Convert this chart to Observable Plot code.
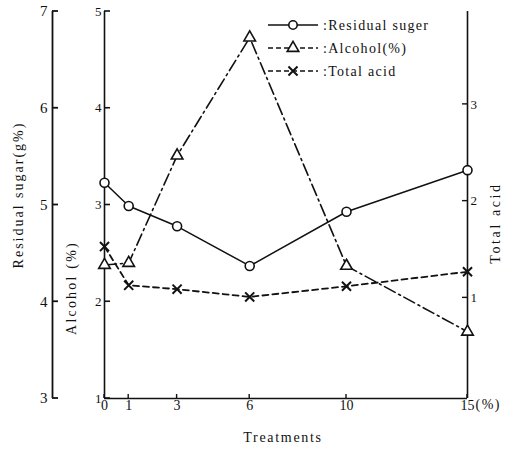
<!DOCTYPE html>
<html><head><meta charset="utf-8">
<script src="https://cdn.jsdelivr.net/npm/d3@7"></script>
<script src="https://cdn.jsdelivr.net/npm/@observablehq/plot@0.6"></script>
<style>
body{margin:0;background:#fff;}
#chart svg{display:block;}
</style>
</head><body><div id="chart"></div>
<script>
// ---- data ----
const treatments = [0, 1, 3, 6, 10, 15];
const residualSugar = [5.23, 4.99, 4.78, 4.37, 4.93, 5.36];
const alcohol = [2.38, 2.40, 3.51, 4.73, 2.37, 1.69];
const totalAcid = [1.53, 1.13, 1.09, 1.01, 1.12, 1.27];

const sugarTicks = [3, 4, 5, 6, 7];
const alcoholTicks = [1, 2, 3, 4, 5];
const acidTicks = [1, 2, 3];
const xTicks = [0, 1, 3, 6, 10, 15];

const seriesNames = [":Residual suger", ":Alcohol(%)", ":Total acid"];
const seriesSymbols = ["circle", "triangle", "times"];
const seriesDash = [null, "12,4,2,4", "6,4"];

// the three y axes share one pixel scale, offset from the alcohol axis
const SUGAR_SHIFT = 2;
const ACID_SHIFT = 1.04;

const ink = "#111";
const W = 512, H = 451, ML = 104, MR = 45, MT = 11, MB = 53;
const serif = "'Liberation Serif', serif";

const rows = treatments.map((t, i) => ({
  t,
  sugar: residualSugar[i] - SUGAR_SHIFT,
  alcohol: alcohol[i],
  acid: totalAcid[i] + ACID_SHIFT
}));

const chart = Plot.plot({
  width: W,
  height: H,
  marginLeft: ML,
  marginRight: MR,
  marginTop: MT,
  marginBottom: MB,
  style: {fontFamily: serif, fontSize: "14px", color: ink, background: "#fff"},
  x: {domain: [0, 15], axis: null},
  y: {domain: [1, 5], axis: null},
  marks: [
    // axis lines
    Plot.ruleX([0, 15], {stroke: ink, strokeWidth: 1.6}),
    Plot.ruleX([0], {dx: -52, stroke: ink, strokeWidth: 1.8}),
    Plot.ruleY([1], {stroke: ink, strokeWidth: 1.6}),
    // tick labels
    Plot.axisY(alcoholTicks, {anchor: "left", tickSize: 0, tickPadding: 3, tickFormat: d => String(d), fill: ink, label: null, fontSize: 13}),
    Plot.axisY(sugarTicks.map(v => v - SUGAR_SHIFT), {anchor: "left", dx: -52, tickSize: 0, tickPadding: 5, tickFormat: d => String(d + SUGAR_SHIFT), fill: ink, label: null, fontSize: 15}),
    Plot.axisY(acidTicks.map(v => v + ACID_SHIFT), {anchor: "right", tickSize: 0, tickPadding: 3, tickFormat: d => String(Math.round(d - ACID_SHIFT)), fill: ink, label: null, fontSize: 13}),
    Plot.axisX(xTicks, {anchor: "bottom", tickSize: 0, tickPadding: 2, tickFormat: d => String(d), fill: ink, label: null, fontSize: 14}),
    Plot.text(["(%)"], {x: [15], frameAnchor: "bottom", dx: 8, dy: 10, textAnchor: "start", text: d => d, fill: ink, fontSize: 14}),

    // series
    Plot.line(rows, {x: "t", y: "sugar", stroke: ink, strokeWidth: 1.5}),
    Plot.line(rows, {x: "t", y: "alcohol", stroke: ink, strokeWidth: 1.6, strokeDasharray: seriesDash[1]}),
    Plot.line(rows, {x: "t", y: "acid", stroke: ink, strokeWidth: 1.8, strokeDasharray: seriesDash[2]}),
    Plot.dot(rows, {x: "t", y: "sugar", symbol: "circle", r: 4.5, fill: "white", stroke: ink, strokeWidth: 1.6}),
    Plot.dot(rows, {x: "t", y: "alcohol", symbol: "triangle", r: 4.3, fill: "white", stroke: ink, strokeWidth: 1.6}),
    Plot.dot(rows, {x: "t", y: "acid", symbol: "times", r: 4.2, stroke: ink, strokeWidth: 2}),

    // axis titles
    Plot.text(["Residual sugar(g%)"], {frameAnchor: "left", dx: -86, dy: -10, rotate: -90, textAnchor: "middle", text: d => d, fill: ink, fontSize: 14}),
    Plot.text(["Alcohol (%)"], {frameAnchor: "left", dx: -33, dy: 83, rotate: -90, textAnchor: "middle", text: d => d, fill: ink, fontSize: 14}),
    Plot.text(["Total acid"], {frameAnchor: "right", dx: 28, dy: 18, rotate: -90, textAnchor: "middle", text: d => d, fill: ink, fontSize: 14}),
    Plot.text(["Treatments"], {frameAnchor: "bottom", dx: -3, dy: 43, textAnchor: "middle", text: d => d, fill: ink, fontSize: 14})
  ]
});

document.getElementById("chart").appendChild(chart);
const svg = d3.select(chart);

// inward tick marks, positioned with the plot's own scales
const xs = chart.scale("x"), ys = chart.scale("y");
const X0 = xs.apply(0), X15 = xs.apply(15), Y1 = ys.apply(1);
const tk = svg.append("g").attr("stroke", ink).attr("fill", "none");
alcoholTicks.forEach(v => tk.append("line").attr("x1", X0).attr("x2", X0 + 6).attr("y1", ys.apply(v)).attr("y2", ys.apply(v)).attr("stroke-width", 1.6));
sugarTicks.forEach(v => { const y = ys.apply(v - SUGAR_SHIFT); tk.append("line").attr("x1", X0 - 52).attr("x2", X0 - 46).attr("y1", y).attr("y2", y).attr("stroke-width", 1.8); });
acidTicks.forEach(v => { const y = ys.apply(v + ACID_SHIFT); tk.append("line").attr("x1", X15).attr("x2", X15 - 5).attr("y1", y).attr("y2", y).attr("stroke-width", 1.4); });
xTicks.forEach(v => { const x = xs.apply(v); tk.append("line").attr("x1", x).attr("x2", x).attr("y1", Y1).attr("y2", Y1 - 4).attr("stroke-width", 1.4); });

// letter spacing of the scanned typesetting
const spacing = {"Residual sugar(g%)": "2px", "Alcohol (%)": "2.2px", "Total acid": "2.6px", "Treatments": "1.7px", "(%)": "1.5px"};
svg.selectAll("text").each(function () {
  const s = spacing[this.textContent];
  if (s) d3.select(this).style("letter-spacing", s);
});

// legend inside the plot area (top right)
const symMap = {circle: d3.symbolCircle, triangle: d3.symbolTriangle, times: d3.symbolTimes};
const symR = [4.2, 4.3, 4.2];
const lg = svg.append("g").attr("font-family", serif).attr("font-size", 14).attr("text-anchor", "start");
seriesNames.forEach((name, i) => {
  const y = 25 + i * 23;
  lg.append("line").attr("x1", 268).attr("x2", 318).attr("y1", y).attr("y2", y)
    .attr("stroke", ink).attr("stroke-width", 1.6)
    .attr("stroke-dasharray", i === 0 ? null : "5,3");
  const r = symR[i];
  lg.append("path").attr("transform", `translate(293,${y})`)
    .attr("d", d3.symbol().type(symMap[seriesSymbols[i]]).size(Math.PI * r * r)())
    .attr("fill", i === 2 ? "none" : "white").attr("stroke", ink).attr("stroke-width", i === 2 ? 2 : 1.6);
  lg.append("text").attr("x", 323).attr("y", y).attr("dy", "0.35em").attr("fill", ink)
    .attr("text-anchor", "start").style("letter-spacing", "1.3px").text(name);
});
</script>
</body></html>
